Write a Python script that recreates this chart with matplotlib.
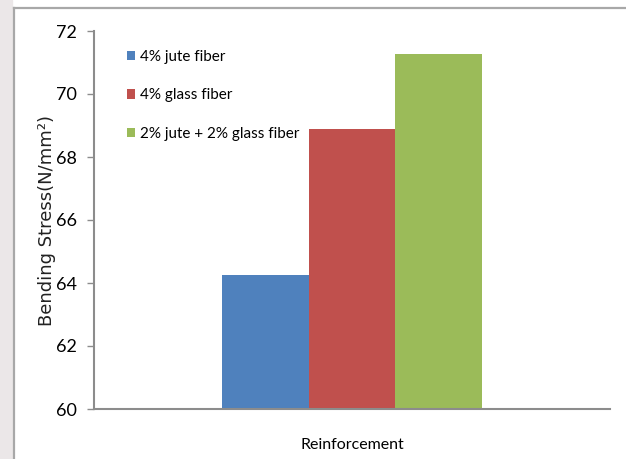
import matplotlib
matplotlib.use("Agg")
import matplotlib.pyplot as plt
from matplotlib.patches import Rectangle
from matplotlib.lines import Line2D

# Bending stress for each reinforcement type
series = ["4% jute fiber", "4% glass fiber", "2% jute + 2% glass fiber"]
stress = [64.25, 68.88, 71.26]
colors = ["#4F81BD", "#C0504D", "#9BBB59"]
yticks = [60, 62, 64, 66, 68, 70, 72]

narrow = ["Lato", "DejaVu Sans"]

fig = plt.figure(figsize=(6.26, 4.59), dpi=100)

# light backdrop strip on the left and the chart frame
fig.patches.append(Rectangle((0, 0), 12 / 626, 1, transform=fig.transFigure,
                             color="#ebe7e8", zorder=0))
fig.add_artist(Line2D([14 / 626, 14 / 626], [0, 1 - 8 / 459], transform=fig.transFigure,
                      color="#a8a8a8", lw=1.6))
fig.add_artist(Line2D([14 / 626, 1], [1 - 8 / 459, 1 - 8 / 459], transform=fig.transFigure,
                      color="#a8a8a8", lw=1.6))

ax = fig.add_axes([94 / 626, 50 / 459, 516 / 626, 378 / 459])

w = 0.1675
for i, (lab, val, c) in enumerate(zip(series, stress, colors)):
    ax.bar((i - 1) * w, val - 60, bottom=60, width=w, color=c, label=lab)

ax.set_xlim(-0.5, 0.5)
ax.set_ylim(60, 72)
ax.set_yticks(yticks)
ax.set_yticklabels([str(t) for t in yticks], family=narrow, fontsize=13)
ax.set_xticks([])

for s in ["top", "right"]:
    ax.spines[s].set_visible(False)
for s in ["left", "bottom"]:
    ax.spines[s].set_color("#8c8c8c")
    ax.spines[s].set_linewidth(1.5)
ax.tick_params(axis="y", length=5, width=1, color="#8c8c8c", pad=7)

ax.set_ylabel("Bending Stress(N/mm²)", fontsize=13, family="DejaVu Sans", color="#222222")
ax.yaxis.set_label_coords(-0.074, 0.5)
fig.text(352 / 626, 1 - 445 / 459, "Reinforcement", ha="center", va="center",
         family=narrow, fontsize=11.5)

leg = ax.legend(loc="upper left", bbox_to_anchor=(0.064, 0.950), frameon=False,
                prop={"family": narrow, "size": 11}, handlelength=0.55, handleheight=0.55,
                handletextpad=0.3, labelspacing=1.6, borderaxespad=0, borderpad=0)

fig.savefig("out.png", dpi=100)
